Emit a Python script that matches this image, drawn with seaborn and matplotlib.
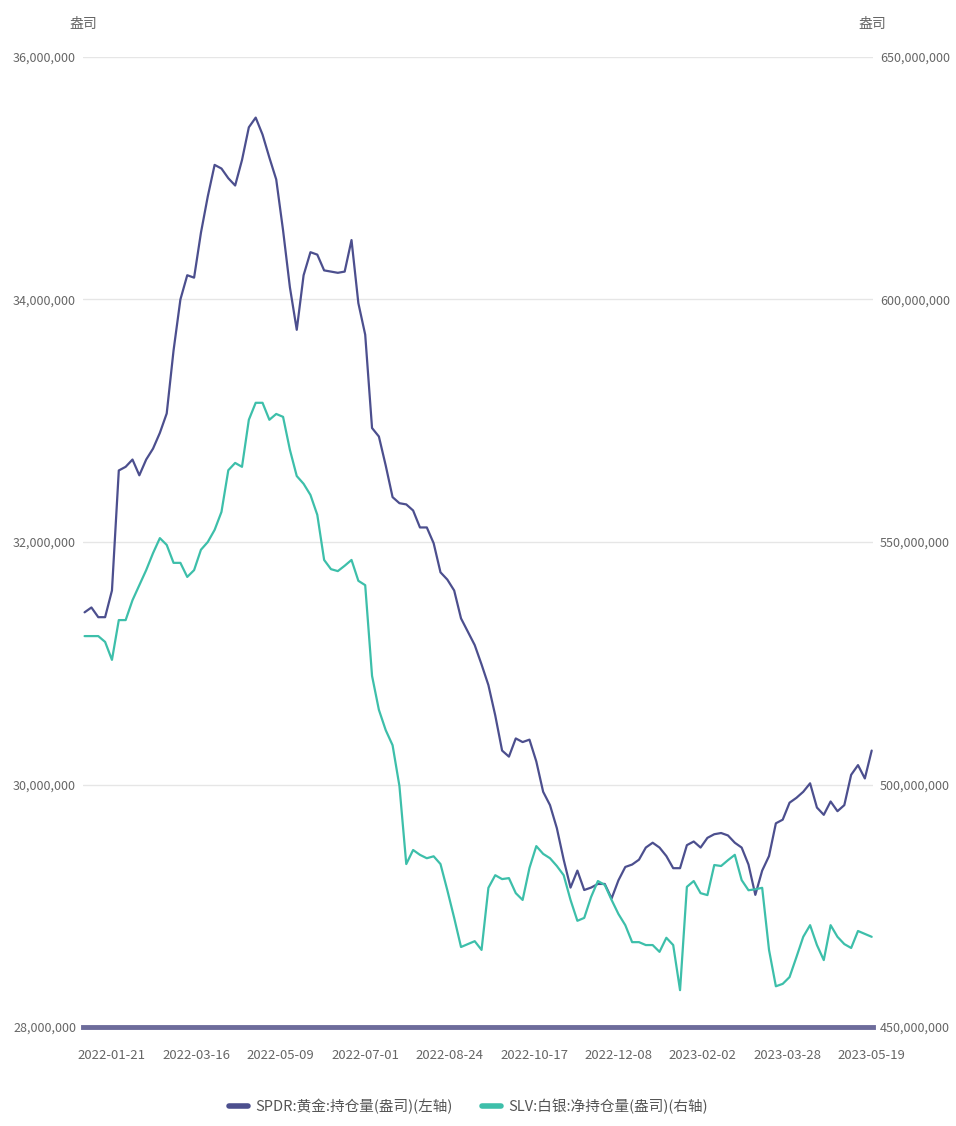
import numpy as np
import pandas as pd
import matplotlib
matplotlib.use("Agg")
import matplotlib.pyplot as plt
import matplotlib.ticker as mticker
from matplotlib.lines import Line2D
import seaborn as sns

# US trading calendar behind the x axis (category axis, one slot per trading day)
start_date = "2022-01-03"
end_date = "2023-05-19"
market_holidays = ["2022-01-17", "2022-02-21", "2022-04-15", "2022-05-30", "2022-06-20",
                   "2022-07-04", "2022-09-05", "2022-11-24", "2022-12-26", "2023-01-02",
                   "2023-01-16", "2023-02-20", "2023-04-07"]
tick_dates = ["2022-01-21", "2022-03-16", "2022-05-09", "2022-07-01", "2022-08-24",
              "2022-10-17", "2022-12-08", "2023-02-02", "2023-03-28", "2023-05-19"]

# holdings, every 3rd trading day (million ounces)
spdr_gold = [31.42, 31.46, 31.38, 31.38, 31.60, 32.59, 32.62, 32.68, 32.55, 32.68,
             32.77, 32.90, 33.06, 33.58, 34.00, 34.20, 34.18, 34.55, 34.85, 35.11,
             35.08, 35.00, 34.94, 35.15, 35.42, 35.50, 35.36, 35.17, 34.99, 34.57,
             34.10, 33.75, 34.20, 34.39, 34.37, 34.24, 34.23, 34.22, 34.23, 34.49,
             33.97, 33.71, 32.94, 32.87, 32.63, 32.37, 32.32, 32.31, 32.26, 32.12,
             32.12, 31.99, 31.75, 31.69, 31.60, 31.37, 31.26, 31.15, 30.99, 30.82,
             30.57, 30.28, 30.23, 30.38, 30.35, 30.37, 30.19, 29.94, 29.83, 29.64,
             29.38, 29.15, 29.29, 29.13, 29.15, 29.18, 29.18, 29.06, 29.21, 29.32,
             29.34, 29.38, 29.48, 29.52, 29.48, 29.41, 29.31, 29.31, 29.50, 29.53,
             29.48, 29.56, 29.59, 29.60, 29.58, 29.52, 29.48, 29.34, 29.09, 29.29,
             29.41, 29.68, 29.71, 29.85, 29.89, 29.94, 30.01, 29.81, 29.75, 29.86,
             29.78, 29.83, 30.08, 30.16, 30.05, 30.28]
slv_silver = [530.6, 530.6, 530.6, 529.4, 525.7, 533.9, 533.9, 538.0, 541.1, 544.2,
              547.7, 550.8, 549.4, 545.7, 545.7, 542.8, 544.2, 548.4, 550.0, 552.5,
              556.2, 564.8, 566.3, 565.5, 575.2, 578.7, 578.7, 575.2, 576.4, 575.8,
              569.0, 563.6, 562.0, 559.7, 555.6, 546.3, 544.4, 544.0, 545.1, 546.3,
              542.0, 541.1, 522.4, 515.4, 511.2, 508.1, 499.7, 483.6, 486.5, 485.5,
              484.8, 485.2, 483.6, 478.2, 472.5, 466.5, 467.1, 467.7, 465.9, 478.7,
              481.3, 480.5, 480.7, 477.6, 476.2, 482.8, 487.3, 485.7, 484.8, 483.2,
              481.3, 476.2, 471.9, 472.5, 476.8, 480.1, 479.3, 476.2, 473.3, 471.0,
              467.5, 467.5, 466.9, 466.9, 465.5, 468.4, 466.9, 457.6, 478.9, 480.1,
              477.6, 477.2, 483.4, 483.2, 484.4, 485.5, 480.3, 478.2, 478.4, 478.7,
              465.9, 458.4, 458.9, 460.3, 464.4, 468.6, 471.0, 466.9, 463.8, 471.0,
              468.6, 467.1, 466.3, 469.8, 469.2, 468.6]

gold_label = "SPDR:黄金:持仓量(盎司)(左轴)"
silver_label = "SLV:白银:净持仓量(盎司)(右轴)"
gold_color = "#4c4f8e"
silver_color = "#3dbfaa"

days = pd.bdate_range(start_date, end_date, freq="C", holidays=market_holidays)
pos = np.arange(len(days))
df = pd.DataFrame({
    "pos": pos[1::3],
    "date": days[1::3],
    "gold": np.array(spdr_gold) * 1e6,
    "silver": np.array(slv_silver) * 1e6,
})
tick_pos = days.get_indexer(pd.to_datetime(tick_dates))

sns.set_theme(style="white")
plt.rcParams["font.family"] = ["Noto Sans CJK SC", "DejaVu Sans"]

fig = plt.figure(figsize=(9.56, 11.26), dpi=100)
ax = fig.add_axes([0.0868, 0.0879, 0.8262, 0.8615])
ax2 = ax.twinx()

sns.lineplot(data=df, x="pos", y="gold", ax=ax, color=gold_color, linewidth=1.6)
sns.lineplot(data=df, x="pos", y="silver", ax=ax2, color=silver_color, linewidth=1.6)

ax.set_xlim(0.3, 346.5)
ax.set_ylim(28e6, 36e6)
ax2.set_ylim(450e6, 650e6)
ax.set_yticks(np.arange(28e6, 36e6 + 1, 2e6))
ax2.set_yticks(np.arange(450e6, 650e6 + 1, 50e6))
ax.yaxis.set_major_formatter(mticker.StrMethodFormatter("{x:,.0f}"))
ax2.yaxis.set_major_formatter(mticker.StrMethodFormatter("{x:,.0f}"))
ax.set_xticks(tick_pos)
ax.set_xticklabels(tick_dates)

label_color = "#666666"
ax.tick_params(axis="both", length=0, labelsize=9, colors=label_color, pad=5)
ax.tick_params(axis="x", labelsize=9.5, pad=16)
ax2.tick_params(axis="y", length=0, labelsize=9, colors=label_color, pad=5)
ax.grid(axis="y", color="#e6e6e6", linewidth=1)
ax.grid(axis="x", visible=False)
ax.set_xlabel("")
ax.set_ylabel("")
ax2.set_ylabel("")

for a in (ax, ax2):
    for side in ("top", "left", "right"):
        a.spines[side].set_visible(False)
ax2.spines["bottom"].set_visible(False)
ax.spines["bottom"].set_color("#6d6c9b")
ax.spines["bottom"].set_linewidth(3.5)

fig.text(0.087, 0.979, "盎司", ha="center", va="center", fontsize=10, color=label_color)
fig.text(0.912, 0.979, "盎司", ha="center", va="center", fontsize=10, color=label_color)

handles = [Line2D([0], [0], color=gold_color, linewidth=4),
           Line2D([0], [0], color=silver_color, linewidth=4)]
fig.legend(handles, [gold_label, silver_label], loc="center", bbox_to_anchor=(0.49, 0.017),
           ncol=2, frameon=False, fontsize=10.5, handlelength=1.3, handletextpad=0.5,
           columnspacing=2.0, labelcolor="#555555")

fig.savefig("out.png", dpi=100)
